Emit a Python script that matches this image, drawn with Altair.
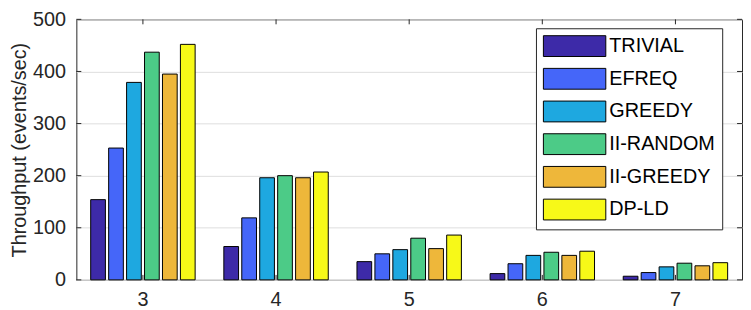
import altair as alt
import pandas as pd

groups = ["3", "4", "5", "6", "7"]
methods = ["TRIVIAL", "EFREQ", "GREEDY", "II-RANDOM", "II-GREEDY", "DP-LD"]
colors = ["#3d2aa8", "#4566f9", "#1ea8e0", "#4ccb87", "#eeb73a", "#f7f918"]

trivial = [154, 64, 35, 12, 7]
efreq = [253, 119, 50, 31, 14]
greedy = [379, 196, 58, 47, 25]
ii_random = [437, 200, 80, 53, 32]
ii_greedy = [395, 196, 60, 47, 27]
dp_ld = [452, 207, 86, 55, 33]

y_ticks = [0, 100, 200, 300, 400, 500]

series = [trivial, efreq, greedy, ii_random, ii_greedy, dp_ld]
rows = []
for m, vals in zip(methods, series):
    for g, v in zip(groups, vals):
        rows.append({"group": g, "method": m, "value": v})
df = pd.DataFrame(rows)

W, H = 672, 263
FONT = "Liberation Sans"
AX = "#262626"
TL = 5

x_scale = alt.Scale(domain=groups, paddingInner=0, paddingOuter=0)

bars = alt.Chart(df).mark_bar(stroke="black", strokeWidth=1).encode(
    x=alt.X("group:N", scale=x_scale, sort=groups,
            axis=alt.Axis(title=None, labelAngle=0, labelFont=FONT, labelFontSize=20,
                          labelColor=AX, tickSize=0, domain=False, labelPadding=10)),
    xOffset=alt.XOffset("method:N", sort=methods,
                        scale=alt.Scale(paddingInner=0.18, paddingOuter=0.8)),
    y=alt.Y("value:Q", scale=alt.Scale(domain=[0, 500], nice=False),
            axis=alt.Axis(title="Throughput (events/sec)", values=y_ticks, labelFont=FONT,
                          labelFontSize=20, labelColor=AX, tickSize=0, domain=False,
                          labelPadding=11, titleFont=FONT, titleFontSize=20,
                          titleFontWeight="normal", titleColor=AX, titlePadding=3,
                          grid=True, gridColor="#dedede", gridWidth=1)),
    color=alt.Color("method:N", sort=methods,
                    scale=alt.Scale(domain=methods, range=colors),
                    legend=alt.Legend(title=None, orient="none", legendX=464, legendY=9,
                                      symbolType="M-3,-1L3,-1L3,1L-3,1Z",
                                      symbolSize=441, symbolOffset=21,
                                      symbolStrokeColor="black",
                                      symbolStrokeWidth=1, symbolOpacity=1,
                                      labelFont=FONT, labelFontSize=20, labelColor="black",
                                      labelOffset=24, rowPadding=7, padding=7,
                                      strokeColor=AX, fillColor="white", labelLimit=0)),
)

gdf = pd.DataFrame({"group": groups})
tdf = pd.DataFrame({"v": y_ticks})

xt_bottom = alt.Chart(gdf).mark_rule(color=AX, strokeWidth=1).encode(
    x=alt.X("group:N", scale=x_scale, sort=groups), y=alt.value(H), y2=alt.value(H - TL))
xt_top = alt.Chart(gdf).mark_rule(color=AX, strokeWidth=1).encode(
    x=alt.X("group:N", scale=x_scale, sort=groups), y=alt.value(0), y2=alt.value(TL))
yt_left = alt.Chart(tdf).mark_rule(color=AX, strokeWidth=1).encode(
    y=alt.Y("v:Q", scale=alt.Scale(domain=[0, 500], nice=False)), x=alt.value(0), x2=alt.value(TL))
yt_right = alt.Chart(tdf).mark_rule(color=AX, strokeWidth=1).encode(
    y=alt.Y("v:Q", scale=alt.Scale(domain=[0, 500], nice=False)), x=alt.value(W), x2=alt.value(W - TL))

chart = alt.layer(bars, xt_bottom, xt_top, yt_left, yt_right).properties(
    width=W, height=H,
    autosize=alt.AutoSizeParams(type="none"),
    padding={"left": 69, "top": 10, "right": 1, "bottom": 34},
    background="white",
).configure_view(stroke=AX, strokeWidth=1)

chart.save("out.html", embed_options={"renderer": "svg", "actions": False})
